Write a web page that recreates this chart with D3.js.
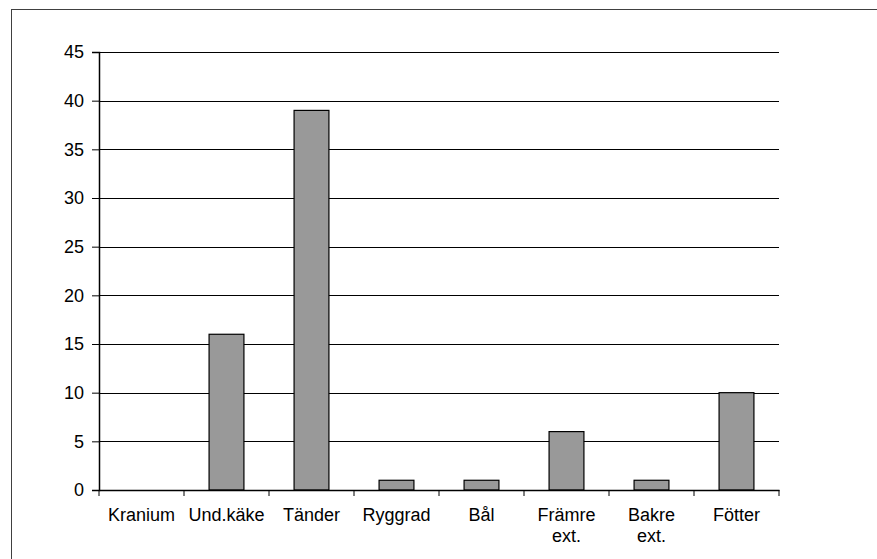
<!DOCTYPE html>
<html><head><meta charset="utf-8">
<script src="https://cdn.jsdelivr.net/npm/d3@7"></script>
<style>html,body{margin:0;padding:0;background:#fff;}svg{display:block;}</style>
</head><body>
<script>
const categories = ["Kranium", "Und.käke", "Tänder", "Ryggrad", "Bål", "Främre ext.", "Bakre ext.", "Fötter"];
const labelLines = [["Kranium"], ["Und.käke"], ["Tänder"], ["Ryggrad"], ["Bål"], ["Främre", "ext."], ["Bakre", "ext."], ["Fötter"]];
const values = [0, 16, 39, 1, 1, 6, 1, 10];
const yTicks = [0, 5, 10, 15, 20, 25, 30, 35, 40, 45];

(function () {
const W = 877, H = 559;
const svg = d3.select("body").append("svg").attr("width", W).attr("height", H);
svg.append("rect").attr("x", 11.5).attr("y", 9.5).attr("width", W).attr("height", H)
  .attr("fill", "none").attr("stroke", "#404040").attr("stroke-width", 1);

const pLeft = 99, pRight = 779, pTop = 52, pBottom = 490;
const x = d3.scaleBand().domain(categories).range([pLeft, pRight]).padding(0);
const y = d3.scaleLinear().domain([0, 45]).range([pBottom, pTop]);

const font = "Arial, 'Liberation Sans', sans-serif";

// gridlines
svg.append("g").selectAll("line").data(yTicks.filter(t => t > 0)).join("line")
  .attr("x1", pLeft).attr("x2", pRight)
  .attr("y1", d => Math.round(y(d)) + 0.5).attr("y2", d => Math.round(y(d)) + 0.5)
  .attr("stroke", "#000").attr("stroke-width", 1);

// y axis
const yAxis = d3.axisLeft(y).tickValues(yTicks).tickSize(7).tickPadding(8);
const gy = svg.append("g").attr("transform", `translate(${pLeft},0)`).call(yAxis);
gy.select(".domain").attr("stroke", "#000").attr("stroke-width", 1.5);
gy.selectAll(".tick line").attr("stroke", "#000");
gy.selectAll("text").attr("font-family", font).attr("font-size", 18).attr("fill", "#000");

// bars
const bw = x.bandwidth() * 0.41;
svg.append("g").selectAll("rect").data(values).join("rect")
  .attr("x", (d, i) => x(categories[i]) + (x.bandwidth() - bw) / 2)
  .attr("y", d => y(d))
  .attr("width", bw)
  .attr("height", d => y(0) - y(d))
  .attr("fill", "#999999").attr("stroke", "#000").attr("stroke-width", 1.2)
  .style("display", d => d > 0 ? null : "none");

// x axis
const xAxis = d3.axisBottom(x).tickSize(0).tickFormat("");
const gx = svg.append("g").attr("transform", `translate(0,${pBottom})`).call(xAxis);
gx.select(".domain").attr("stroke", "#000").attr("stroke-width", 1.5);
const bounds = categories.map(c => x(c)).concat([pRight]);
gx.selectAll("line.bt").data(bounds).join("line").attr("class", "bt")
  .attr("x1", d => d).attr("x2", d => d).attr("y1", 0).attr("y2", 6)
  .attr("stroke", "#000").attr("stroke-width", 1);

// labels
const lg = svg.append("g");
categories.forEach((c, i) => {
  const cx = x(c) + x.bandwidth() / 2;
  const t = lg.append("text")
    .attr("x", cx).attr("y", 521)
    .attr("text-anchor", "middle")
    .attr("font-family", font).attr("font-size", 18).attr("fill", "#000");
  labelLines[i].forEach((ln, j) => {
    t.append("tspan").attr("x", cx).attr("dy", j === 0 ? 0 : 21).text(ln);
  });
});
})();
</script>
</body></html>
